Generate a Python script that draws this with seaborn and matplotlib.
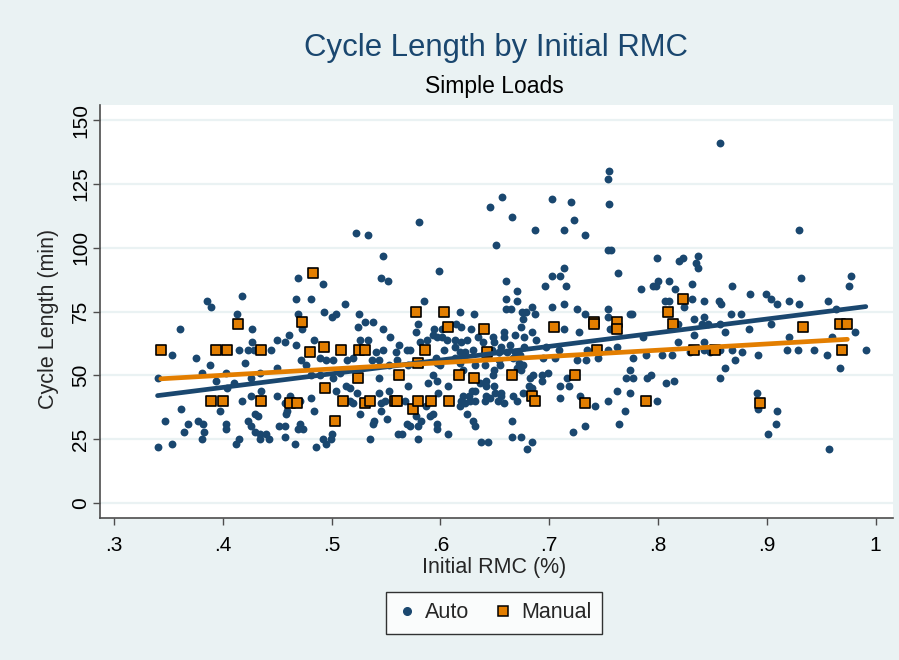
import numpy as np
import pandas as pd
import matplotlib
matplotlib.use("Agg")
import matplotlib.pyplot as plt
import seaborn as sns
from matplotlib.lines import Line2D

# ---------------- data ----------------
auto_rmc = [
    .469, .418, .385, .389, .467, .413, .469, .361, .427, .461, .450, .457, .427, .467, .415, .423, .429, .444,
    .353, .375, .420, .388, .450, .381, .403, .434, .426, .340, .394, .410, .404, .435, .462, .457, .450, .426,
    .418, .397, .459, .458, .362, .430, .432, .347, .368, .377, .382, .403, .403, .423, .426, .452, .457, .364,
    .383, .381, .430, .434, .434, .440, .442, .457, .469, .415, .412, .466, .340, .353,
    .522, .533, .580, .547, .492, .481, .473, .493, .500, .504, .512, .525, .524, .531, .538, .484, .526, .533,
    .545, .552, .599, .585, .547, .579, .578, .594, .593, .601, .601, .554, .618, .562, .569, .572, .581, .588,
    .597, .606, .613, .547, .541, .537, .544, .559, .560, .603, .613, .489, .495, .501, .472, .476, .520, .514,
    .553, .570, .596, .597, .600, .613, .616, .481, .489, .501, .508, .544, .570, .589, .597, .593, .607, .513,
    .517, .523, .504, .553, .544, .481, .471, .517, .520, .545, .549, .567, .598, .587, .593, .590, .484, .526,
    .545, .551, .578, .582, .539, .538, .569, .572, .597, .597, .607, .471, .474, .500, .499, .492, .495, .486,
    .535, .561, .579, .579, .565,
    .657, .646, .666, .651, .687, .703, .720, .723, .714, .733, .755, .754, .755, .754, .757, .763, .660, .670,
    .660, .670, .696, .703, .710, .714, .715, .703, .714, .660, .665, .675, .679, .684, .687, .676, .726, .733,
    .754, .754, .774, .631, .614, .619, .628, .635, .648, .658, .674, .669, .677, .684, .688, .714, .727, .756,
    .624, .639, .619, .649, .658, .664, .656, .630, .623, .618, .647, .654, .661, .669, .667, .677, .673, .694,
    .705, .709, .697, .726, .735, .734, .745, .754, .762, .618, .621, .632, .641, .649, .654, .655, .672, .676,
    .674, .670, .648, .642, .636, .642, .682, .685, .693, .699, .693, .710, .718, .716, .676, .684, .681, .649,
    .650, .632, .629, .626, .656, .656, .667, .670, .642, .646, .641, .621, .619, .623, .627, .632, .653, .658,
    .710, .728, .742, .754, .762, .624, .630, .632, .666, .618, .722, .733, .666, .674, .637, .644, .684, .680,
    .764, .770, .771,
    .857, .930, .799, .819, .823, .837, .835, .837, .784, .795, .800, .798, .810, .816, .831, .868, .885, .899,
    .904, .909, .931, .977, .976, .806, .810, .824, .831, .842, .856, .858, .920, .930, .956, .964, .776, .833,
    .842, .867, .876, .840, .846, .857, .862, .818, .884, .904, .920, .960, .981, .833, .842, .786, .818, .857,
    .868, .871, .877, .777, .789, .804, .813, .829, .842, .848, .892, .862, .857, .777, .774, .790, .794, .807,
    .815, .774, .799, .891, .892, .909, .908, .901, .957, .967, .991, .955, .943, .929, .919,
]
auto_len = [
    88, 81, 79, 77, 80, 74, 74, 68, 68, 66, 64, 63, 63, 62, 60, 60, 60, 60,
    58, 57, 55, 54, 53, 51, 51, 51, 49, 49, 48, 47, 45, 44, 42, 39, 42, 42,
    40, 36, 36, 35, 37, 35, 34, 32, 31, 32, 31, 31, 29, 32, 30, 30, 30, 28,
    28, 25, 28, 27, 25, 27, 25, 26, 29, 25, 23, 23, 22, 23,
    106, 105, 110, 97, 86, 80, 68, 75, 73, 74, 78, 74, 69, 71, 71, 64, 64, 64,
    88, 87, 91, 79, 68, 70, 67, 68, 66, 68, 65, 65, 75, 62, 60, 60, 63, 64,
    65, 64, 64, 60, 59, 56, 56, 59, 56, 60, 61, 57, 56, 56, 56, 54, 57, 56,
    54, 54, 57, 55, 54, 57, 56, 50, 50, 49, 51, 49, 46, 47, 48, 50, 46, 46,
    45, 43, 44, 44, 43, 41, 40, 40, 39, 39, 40, 40, 43, 38, 35, 34, 36, 35,
    36, 33, 34, 32, 32, 31, 31, 30, 31, 29, 27, 31, 29, 27, 25, 25, 23, 22,
    25, 27, 25, 30, 27,
    120, 116, 112, 101, 107, 119, 118, 111, 107, 105, 130, 127, 117, 99, 99, 90, 87, 83,
    80, 79, 85, 89, 89, 92, 85, 77, 78, 76, 76, 75, 75, 77, 74, 72, 76, 74,
    76, 73, 74, 74, 70, 69, 68, 65, 65, 67, 69, 66, 65, 67, 64, 68, 67, 68,
    64, 63, 63, 63, 65, 62, 61, 60, 59, 59, 60, 59, 59, 59, 57, 61, 58, 57,
    57, 60, 61, 56, 60, 56, 57, 60, 61, 55, 52, 54, 54, 52, 56, 54, 55, 54,
    52, 53, 50, 48, 47, 46, 49, 50, 50, 51, 48, 46, 46, 49, 43, 45, 46, 46,
    43, 44, 44, 42, 43, 42, 42, 40, 42, 41, 40, 42, 40, 39, 40, 40, 40, 39,
    41, 42, 38, 40, 44, 35, 32, 30, 32, 38, 28, 30, 26, 26, 24, 24, 24, 21,
    31, 36, 49,
    141, 107, 96, 95, 96, 97, 94, 92, 84, 85, 87, 85, 87, 84, 86, 85, 82, 82,
    80, 78, 88, 89, 85, 79, 79, 77, 80, 79, 79, 78, 79, 78, 79, 76, 74, 72,
    73, 74, 74, 70, 70, 70, 67, 70, 68, 70, 65, 65, 67, 66, 63, 65, 63, 60,
    60, 56, 59, 57, 58, 58, 58, 59, 60, 59, 58, 53, 49, 49, 52, 49, 50, 47,
    48, 43, 40, 43, 37, 36, 31, 27, 21, 53, 60, 58, 60, 60, 60,
]

manual_rmc = [
    .343, .389, .394, .400, .404, .414, .435, .435, .462, .468, .473, .483, .480, .493, .494, .503,
    .509, .510, .525, .531, .524, .531, .535, .558, .560, .562, .575, .578, .579, .579, .586, .591,
    .603, .607, .608, .617, .631, .640, .643, .666, .684, .687, .704, .724, .733, .741, .741, .744,
    .762, .762, .789, .809, .814, .823, .833, .852, .894, .933, .967, .974, .969,
]
manual_len = [
    60, 40, 60, 40, 60, 70, 60, 40, 39, 39, 71, 90, 59, 61, 45, 32,
    60, 40, 60, 60, 49, 39, 40, 40, 40, 50, 37, 75, 40, 55, 60, 40,
    75, 69, 40, 50, 49, 68, 59, 50, 42, 40, 69, 50, 39, 71, 70, 60,
    71, 68, 40, 75, 70, 80, 60, 60, 39, 69, 70, 70, 60,
]

x_ticks = [.3, .4, .5, .6, .7, .8, .9, 1.0]
x_tick_labels = [".3", ".4", ".5", ".6", ".7", ".8", ".9", "1"]
y_ticks = [0, 25, 50, 75, 100, 125, 150]
y_tick_labels = ["0", "25", "50", "75", "100", "125", "150"]

auto_df = pd.DataFrame({"rmc": auto_rmc, "length": auto_len})
manual_df = pd.DataFrame({"rmc": manual_rmc, "length": manual_len})

# ---------------- style ----------------
NAVY = "#1A476F"
ORANGE = "#E37E00"
BG = "#EAF2F3"
AXC = "#4d4d4d"

sns.set_theme(style="white")
plt.rcParams["font.family"] = ["Liberation Sans", "DejaVu Sans"]

fig = plt.figure(figsize=(8.99, 6.60), dpi=100, facecolor=BG)
ax = fig.add_axes([100 / 899, 1 - 518 / 660, 793 / 899, 413 / 660])
ax.set_facecolor("white")

ax.yaxis.grid(True, color=BG, lw=1.6)
ax.xaxis.grid(False)
ax.set_axisbelow(True)

sns.scatterplot(data=auto_df, x="rmc", y="length", ax=ax, color=NAVY, s=32,
                linewidth=0, zorder=2, legend=False)
sns.scatterplot(data=manual_df, x="rmc", y="length", ax=ax, color=ORANGE, marker="s",
                s=60, edgecolor="black", linewidth=1.2, zorder=3, legend=False)
sns.regplot(data=auto_df, x="rmc", y="length", ax=ax, scatter=False, ci=None,
            truncate=True, color=NAVY, line_kws=dict(lw=3.4, zorder=4))
sns.regplot(data=manual_df, x="rmc", y="length", ax=ax, scatter=False, ci=None,
            truncate=True, color=ORANGE, line_kws=dict(lw=3.4, zorder=5))

ax.set_xlim(0.2871, 1.016)
ax.set_ylim(-5.9, 156)
ax.set_xticks(x_ticks)
ax.set_xticklabels(x_tick_labels, fontsize=15)
ax.set_yticks(y_ticks)
ax.set_yticklabels(y_tick_labels, fontsize=15, rotation=90, va="center")
ax.tick_params(axis="both", which="major", length=5, width=1, color=AXC,
               direction="out", bottom=True, left=True, labelcolor="black")
ax.tick_params(axis="x", pad=8)
ax.tick_params(axis="y", pad=2)

for s in ["top", "right"]:
    ax.spines[s].set_visible(False)
for s in ["left", "bottom"]:
    ax.spines[s].set_color(AXC)
    ax.spines[s].set_linewidth(1.2)

ax.set_xlabel("Initial RMC (%)", fontsize=15.5)
ax.set_ylabel("Cycle Length (min)", fontsize=15.5)
ax.xaxis.label.set_va("center")
ax.yaxis.label.set_va("center")
ax.xaxis.set_label_coords((494 - 100) / 793, (518 - 567) / 413)
ax.yaxis.set_label_coords((49 - 100) / 793, (518 - 319) / 413)

fig.text(496 / 899, 1 - 48 / 660, "Cycle Length by Initial RMC", ha="center", va="center",
         fontsize=22.4, color=NAVY)
fig.text(494 / 899, 1 - 87 / 660, "Simple Loads", ha="center", va="center",
         fontsize=16.5, color="black")

handles = [
    Line2D([], [], marker="o", ls="", color=NAVY, markersize=5.5, label="Auto"),
    Line2D([], [], marker="s", ls="", markerfacecolor=ORANGE, markeredgecolor="black",
           markeredgewidth=1.1, markersize=7.5, label="Manual"),
]
leg = fig.legend(handles=handles, loc="center", bbox_to_anchor=(494 / 899, 1 - 613 / 660),
                 ncol=2, frameon=True, fancybox=False, edgecolor="black", facecolor="white",
                 fontsize=15.5, handletextpad=0.35, columnspacing=1.05, borderpad=0.5,
                 handlelength=1.0)
leg.get_frame().set_linewidth(1.0)

fig.savefig("out.png", dpi=100, facecolor=BG)
